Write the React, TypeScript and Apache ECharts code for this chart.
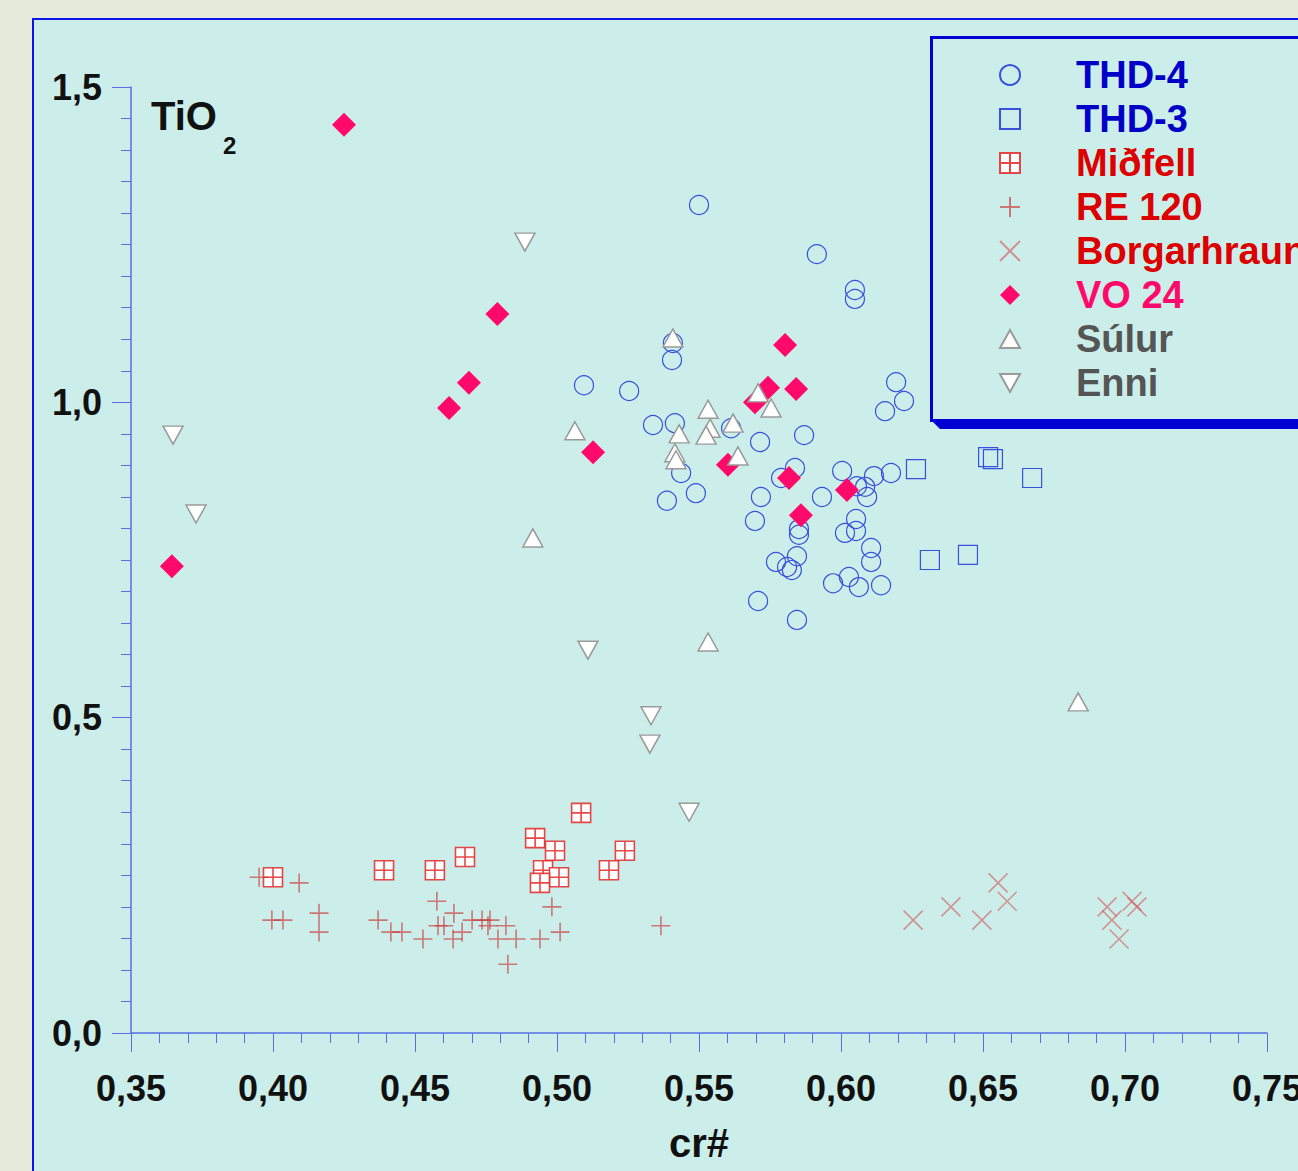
import React, { useEffect, useRef } from "react";
import * as echarts from "echarts";

const FONT = "'Liberation Sans', Arial, Helvetica, sans-serif";

const seriesNames = ["THD-4", "THD-3", "Miðfell", "RE 120", "Borgarhraun", "VO 24", "Súlur", "Enni"];
const legendColors = ["#0000c8", "#0000c8", "#dd0000", "#dd0000", "#dd0000", "#ff0a6a", "#555555", "#555555"];

const xTicks = { min: 0.35, max: 0.75, interval: 0.05 };
const yTicks = { min: 0, max: 1.5, interval: 0.5 };

const thd4: number[][] = [
  [0.5500, 1.313], [0.5915, 1.235], [0.6049, 1.178], [0.6049, 1.164], [0.5408, 1.094],
  [0.5405, 1.067], [0.5095, 1.027], [0.5254, 1.018], [0.6194, 1.032], [0.6222, 1.002],
  [0.6155, 0.986], [0.5338, 0.964], [0.5415, 0.967], [0.5613, 0.959], [0.5715, 0.937],
  [0.5870, 0.948], [0.5437, 0.888], [0.5489, 0.856], [0.5387, 0.844], [0.5838, 0.896],
  [0.5789, 0.880], [0.6004, 0.891], [0.6056, 0.867], [0.6085, 0.866], [0.6116, 0.883],
  [0.6176, 0.888], [0.6092, 0.850], [0.5933, 0.850], [0.5718, 0.850], [0.5697, 0.812],
  [0.5852, 0.799], [0.5852, 0.790], [0.6053, 0.815], [0.6053, 0.796], [0.6014, 0.793],
  [0.6106, 0.769], [0.6106, 0.747], [0.5845, 0.756], [0.5771, 0.747], [0.5810, 0.739],
  [0.5827, 0.734], [0.5972, 0.713], [0.6028, 0.723], [0.6063, 0.707], [0.6141, 0.710],
  [0.5708, 0.685], [0.5845, 0.655],
];

const thd3: number[][] = [
  [0.6264, 0.894], [0.6313, 0.750], [0.6447, 0.758], [0.6518, 0.913], [0.6535, 0.910], [0.6673, 0.880],
];

const midfell: number[][] = [
  [0.4000, 0.247], [0.4391, 0.258], [0.4570, 0.258], [0.4676, 0.279], [0.5085, 0.349],
  [0.4923, 0.309], [0.4993, 0.289], [0.4951, 0.258], [0.5007, 0.247], [0.4940, 0.238],
  [0.5239, 0.289], [0.5183, 0.258],
];

const re120: number[][] = [
  [0.3951, 0.247], [0.4092, 0.238], [0.3996, 0.179], [0.4035, 0.179], [0.4162, 0.190],
  [0.4162, 0.160], [0.4370, 0.179], [0.4415, 0.160], [0.4454, 0.160], [0.4528, 0.149],
  [0.4577, 0.209], [0.4581, 0.170], [0.4602, 0.170], [0.4637, 0.190], [0.4634, 0.149],
  [0.4666, 0.160], [0.4701, 0.179], [0.4736, 0.179], [0.4764, 0.179], [0.4757, 0.170],
  [0.4820, 0.170], [0.4792, 0.149], [0.4856, 0.149], [0.4827, 0.109], [0.4940, 0.149],
  [0.4982, 0.200], [0.5011, 0.160], [0.5366, 0.170],
];

const borgarhraun: number[][] = [
  [0.6254, 0.179], [0.6387, 0.200], [0.6496, 0.179], [0.6553, 0.238], [0.6585, 0.209],
  [0.6937, 0.200], [0.6954, 0.179], [0.6979, 0.149], [0.7025, 0.209], [0.7042, 0.200],
];

const vo24: number[][] = [
  [0.4250, 1.440], [0.3644, 0.740], [0.4620, 0.991], [0.4690, 1.031], [0.4790, 1.140],
  [0.5127, 0.921], [0.5803, 1.091], [0.5743, 1.023], [0.5842, 1.021], [0.5697, 1.000],
  [0.5602, 0.901], [0.5817, 0.880], [0.5859, 0.821], [0.6021, 0.861],
];

const sulur: number[][] = [
  [0.5408, 1.102], [0.5532, 0.989], [0.5539, 0.959], [0.5525, 0.948], [0.5430, 0.950],
  [0.5415, 0.920], [0.5419, 0.909], [0.5620, 0.967], [0.5637, 0.915], [0.5708, 1.015],
  [0.5754, 0.991], [0.5063, 0.955], [0.4915, 0.785], [0.5532, 0.620], [0.6835, 0.525],
];

const enni: number[][] = [
  [0.3648, 0.948], [0.3729, 0.823], [0.4887, 1.254], [0.5109, 0.607], [0.5331, 0.503],
  [0.5327, 0.458], [0.5465, 0.350],
];

const AXIS_COLOR = "#5a6ce6";
const PANEL = "#cbeeea";

export default function App() {
  const ref = useRef<HTMLDivElement>(null);

  useEffect(() => {
    if (!ref.current) return;
    const chart = echarts.init(ref.current, undefined, { renderer: "svg", width: 1298, height: 1171 });

    const blue = "#3a50dc";
    const option: any = {
      animation: false,
      backgroundColor: "#e5eadb",
      grid: {
        left: 131,
        width: 1136,
        top: 87,
        height: 946,
        containLabel: false,
        outerBoundsMode: "none",
      },
      graphic: [
        {
          type: "rect",
          z: -10,
          shape: { x: 33, y: 19, width: 1300, height: 1200 },
          style: { fill: PANEL, stroke: "#0a14e6", lineWidth: 2 },
        },
        {
          type: "polygon",
          z: 3,
          shape: { points: [[931, 420], [940, 429], [1400, 429], [1400, 420]] },
          style: { fill: "#0000d2" },
        },
        {
          type: "rect",
          z: 3,
          shape: { x: 931.5, y: 37.5, width: 500, height: 383 },
          style: { fill: PANEL, stroke: "#0000d2", lineWidth: 3 },
        },
        {
          type: "text",
          z: 5,
          x: 151,
          y: 116,
          style: {
            text: "TiO",
            fill: "#111",
            font: `bold 40px ${FONT}`,
            verticalAlign: "middle",
            align: "left",
          },
        },
        {
          type: "text",
          z: 5,
          x: 223,
          y: 145,
          style: {
            text: "2",
            fill: "#111",
            font: `bold 24px ${FONT}`,
            verticalAlign: "middle",
            align: "left",
          },
        },
      ],
      legend: {
        orient: "vertical",
        left: 994,
        top: 48,
        padding: 5,
        itemWidth: 20,
        itemHeight: 20,
        itemGap: 0,
        z: 6,
        data: seriesNames.map((n, i) => {
          const item: any = { name: n, textStyle: { color: legendColors[i] } };
          if (n === "Enni") item.icon = "path://M0,0 L20,0 L10,18 Z";
          if (n === "Súlur") item.icon = "path://M10,0 L20,18 L0,18 Z";
          return item;
        }),
        textStyle: {
          fontFamily: FONT,
          fontWeight: "bold",
          fontSize: 38,
          lineHeight: 44,
          padding: [0, 0, 0, 51],
        },
      },
      xAxis: {
        type: "value",
        min: xTicks.min,
        max: xTicks.max,
        interval: xTicks.interval,
        name: "cr#",
        nameLocation: "middle",
        nameGap: 90,
        nameTextStyle: { fontFamily: FONT, fontWeight: "bold", fontSize: 40, color: "#111" },
        axisLine: { show: true, onZero: false, lineStyle: { color: AXIS_COLOR, width: 1.5 } },
        axisTick: { show: true, inside: false, length: 19, lineStyle: { color: AXIS_COLOR, width: 1 } },
        minorTick: { show: true, splitNumber: 5, length: 10, lineStyle: { color: AXIS_COLOR, width: 1 } },
        splitLine: { show: false },
        minorSplitLine: { show: false },
        axisLabel: {
          margin: 37,
          color: "#111",
          fontFamily: FONT,
          fontWeight: "bold",
          fontSize: 36,
          hideOverlap: false,
          showMaxLabel: true,
          showMinLabel: true,
          formatter: (v: number) => v.toFixed(2).replace(".", ","),
        },
      },
      yAxis: {
        type: "value",
        min: yTicks.min,
        max: yTicks.max,
        interval: yTicks.interval,
        axisLine: { show: true, onZero: false, lineStyle: { color: AXIS_COLOR, width: 1.5 } },
        axisTick: { show: true, inside: false, length: 19, lineStyle: { color: AXIS_COLOR, width: 1 } },
        minorTick: { show: true, splitNumber: 10, length: 10, lineStyle: { color: AXIS_COLOR, width: 1 } },
        splitLine: { show: false },
        minorSplitLine: { show: false },
        axisLabel: {
          margin: 29,
          color: "#111",
          fontFamily: FONT,
          fontWeight: "bold",
          fontSize: 36,
          formatter: (v: number) => v.toFixed(1).replace(".", ","),
        },
      },
      series: [
        {
          name: "THD-4",
          type: "scatter",
          data: thd4,
          symbol: "circle",
          symbolSize: 19,
          itemStyle: { color: "rgba(0,0,0,0)", borderColor: blue, borderWidth: 1.2, opacity: 1 },
          z: 2,
        },
        {
          name: "THD-3",
          type: "scatter",
          data: thd3,
          symbol: "rect",
          symbolSize: 19,
          itemStyle: { color: "rgba(0,0,0,0)", borderColor: blue, borderWidth: 1.2, opacity: 1 },
          z: 2,
        },
        {
          name: "Miðfell",
          type: "scatter",
          data: midfell,
          symbol: "path://M0,0 L10,0 L10,10 L0,10 Z M5,0 L5,10 M0,5 L10,5",
          symbolSize: 19,
          itemStyle: { color: "#ffffff", borderColor: "rgba(226,40,40,0.85)", borderWidth: 1.6, opacity: 1 },
          z: 3,
        },
        {
          name: "RE 120",
          type: "scatter",
          data: re120,
          symbol: "path://M5,0 L5,10 M0,5 L10,5",
          symbolSize: 19,
          itemStyle: { color: "rgba(0,0,0,0)", borderColor: "rgba(205,55,55,0.65)", borderWidth: 1.6, opacity: 1 },
          z: 3,
        },
        {
          name: "Borgarhraun",
          type: "scatter",
          data: borgarhraun,
          symbol: "path://M0,0 L10,10 M10,0 L0,10",
          symbolSize: 19,
          itemStyle: { color: "rgba(0,0,0,0)", borderColor: "rgba(215,70,70,0.55)", borderWidth: 1.5, opacity: 1 },
          z: 3,
        },
        {
          name: "VO 24",
          type: "scatter",
          data: vo24,
          symbol: "diamond",
          symbolSize: 24,
          itemStyle: { color: "#ff0a6a", opacity: 1 },
          z: 4,
        },
        {
          name: "Súlur",
          type: "scatter",
          data: sulur,
          symbol: "triangle",
          symbolSize: [20, 18],
          itemStyle: { color: "#ffffff", borderColor: "#9a9a9a", borderWidth: 1.5, opacity: 1 },
          z: 5,
        },
        {
          name: "Enni",
          type: "scatter",
          data: enni,
          symbol: "triangle",
          symbolRotate: 180,
          symbolSize: [20, 18],
          itemStyle: { color: "#ffffff", borderColor: "#9a9a9a", borderWidth: 1.5, opacity: 1 },
          z: 5,
        },
      ],
    };

    chart.setOption(option);
    return () => chart.dispose();
  }, []);

  return (
    <div
      ref={ref}
      style={{ position: "fixed", left: 0, top: 0, width: 1298, height: 1171 }}
    />
  );
}
